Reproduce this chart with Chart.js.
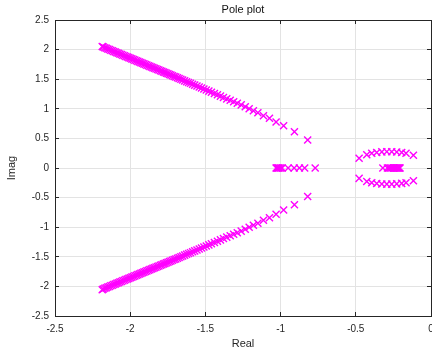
<!DOCTYPE html>
<html>
<head>
<meta charset="utf-8">
<script src="https://cdn.jsdelivr.net/npm/chart.js@4"></script>
<style>
  body { margin: 0; background: #fff; overflow: hidden; }
  canvas { display: block; }
</style>
</head>
<body>
<canvas id="graph" width="432" height="354"></canvas>
<script>
// upper complex branch (real, imag)
const upperRe = [-0.82, -0.908, -0.98, -1.03, -1.074, -1.114, -1.151, -1.181, -1.209, -1.235,
  -1.262, -1.288, -1.312, -1.335, -1.358, -1.38, -1.4, -1.42, -1.44, -1.46,
  -1.477, -1.494, -1.51, -1.526, -1.541, -1.556, -1.571, -1.585, -1.599, -1.612,
  -1.625, -1.638, -1.651, -1.663, -1.675, -1.686, -1.697, -1.708, -1.719, -1.729,
  -1.739, -1.749, -1.759, -1.769, -1.779, -1.789, -1.799, -1.809, -1.819, -1.829,
  -1.839, -1.849, -1.859, -1.869, -1.879, -1.889, -1.899, -1.909, -1.919, -1.929,
  -1.939, -1.949, -1.959, -1.969, -1.979, -1.989, -1.999, -2.009, -2.019, -2.029,
  -2.039, -2.049, -2.059, -2.069, -2.079, -2.089, -2.099, -2.109, -2.119, -2.129,
  -2.139, -2.149, -2.159, -2.169, -2.179, -2.186]
const upperIm = [0.473, 0.613, 0.715, 0.777, 0.84, 0.883, 0.934, 0.968, 1.002, 1.035,
  1.066, 1.093, 1.119, 1.144, 1.168, 1.192, 1.214, 1.236, 1.258, 1.28,
  1.299, 1.318, 1.335, 1.352, 1.368, 1.384, 1.4, 1.415, 1.43, 1.444,
  1.458, 1.472, 1.486, 1.499, 1.512, 1.524, 1.536, 1.547, 1.559, 1.57,
  1.58, 1.591, 1.602, 1.612, 1.623, 1.633, 1.644, 1.654, 1.665, 1.675,
  1.686, 1.696, 1.707, 1.717, 1.728, 1.738, 1.749, 1.759, 1.77, 1.78,
  1.791, 1.801, 1.812, 1.822, 1.833, 1.843, 1.854, 1.864, 1.875, 1.885,
  1.896, 1.906, 1.917, 1.927, 1.938, 1.948, 1.959, 1.969, 1.98, 1.99,
  2.001, 2.011, 2.022, 2.032, 2.043, 2.053]

// lower complex branch (real, imag)
const lowerRe = [-0.82, -0.908, -0.98, -1.03, -1.074, -1.114, -1.151, -1.181, -1.209, -1.235,
  -1.262, -1.288, -1.312, -1.335, -1.358, -1.38, -1.4, -1.42, -1.44, -1.46,
  -1.477, -1.494, -1.51, -1.526, -1.541, -1.556, -1.571, -1.585, -1.599, -1.612,
  -1.625, -1.638, -1.651, -1.663, -1.675, -1.686, -1.697, -1.708, -1.719, -1.729,
  -1.739, -1.749, -1.759, -1.769, -1.779, -1.789, -1.799, -1.809, -1.819, -1.829,
  -1.839, -1.849, -1.859, -1.869, -1.879, -1.889, -1.899, -1.909, -1.919, -1.929,
  -1.939, -1.949, -1.959, -1.969, -1.979, -1.989, -1.999, -2.009, -2.019, -2.029,
  -2.039, -2.049, -2.059, -2.069, -2.079, -2.089, -2.099, -2.109, -2.119, -2.129,
  -2.139, -2.149, -2.159, -2.169, -2.179, -2.186]
const lowerIm = [-0.48, -0.62, -0.71, -0.78, -0.84, -0.883, -0.934, -0.968, -1.002, -1.035,
  -1.066, -1.093, -1.119, -1.144, -1.168, -1.192, -1.214, -1.236, -1.258, -1.28,
  -1.299, -1.318, -1.335, -1.352, -1.368, -1.384, -1.4, -1.415, -1.43, -1.444,
  -1.458, -1.472, -1.486, -1.499, -1.512, -1.524, -1.536, -1.547, -1.559, -1.57,
  -1.58, -1.591, -1.602, -1.612, -1.623, -1.633, -1.644, -1.654, -1.665, -1.675,
  -1.686, -1.696, -1.707, -1.717, -1.728, -1.738, -1.749, -1.759, -1.77, -1.78,
  -1.791, -1.801, -1.812, -1.822, -1.833, -1.843, -1.854, -1.864, -1.875, -1.885,
  -1.896, -1.906, -1.917, -1.927, -1.938, -1.948, -1.959, -1.969, -1.98, -1.99,
  -2.001, -2.011, -2.022, -2.032, -2.043, -2.058]

// real poles near -1
const realNear1 = [-1.03, -1.025, -1.02, -1.015, -1.01, -1.0, -0.99, -0.95, -0.91, -0.875, -0.84, -0.77]

// small arcs near -0.3
const arcUpRe = [-0.478, -0.427, -0.394, -0.361, -0.327, -0.294, -0.261, -0.228, -0.195, -0.166, -0.117]
const arcUpIm = [0.164, 0.225, 0.248, 0.262, 0.272, 0.276, 0.275, 0.27, 0.262, 0.25, 0.214]
const arcLoRe = [-0.478, -0.427, -0.394, -0.361, -0.327, -0.294, -0.261, -0.228, -0.195, -0.166, -0.117]
const arcLoIm = [-0.175, -0.228, -0.25, -0.262, -0.27, -0.272, -0.272, -0.268, -0.26, -0.25, -0.214]

// real poles near -0.25
const realNear03 = [-0.32, -0.29, -0.28, -0.27, -0.26, -0.25, -0.245, -0.24, -0.235, -0.23, -0.225, -0.22, -0.215, -0.21, -0.206]

const xTicks = [-2.5, -2, -1.5, -1, -0.5, 0]
const yTicks = [-2.5, -2, -1.5, -1, -0.5, 0, 0.5, 1, 1.5, 2, 2.5]

const pink = '#ff00ff'
const dark = '#262626'
const font = { family: 'Liberation Sans, Arial, sans-serif', size: 10 }

function pairs(re, im) {
  return re.map((x, i) => ({ x: x, y: im[i] }))
}
function onAxis(re) {
  return re.map(x => ({ x: x, y: 0 }))
}
function series(data) {
  return {
    data: data,
    showLine: false,
    pointStyle: 'crossRot',
    pointRadius: 5,
    pointBorderWidth: 1.4,
    pointBorderColor: pink,
    pointBackgroundColor: pink
  }
}
function setTicks(list) {
  return s => { s.ticks = list.map(v => ({ value: v })) }
}
function boxSize(prop, size) {
  return s => {
    s[prop] = size
    s.paddingLeft = 0; s.paddingRight = 0; s.paddingTop = 0; s.paddingBottom = 0
  }
}

const ctx = document.getElementById('graph').getContext('2d')
const chart = new Chart(ctx, {
  type: 'scatter',
  data: {
    datasets: [
      series(pairs(upperRe, upperIm)),
      series(pairs(lowerRe, lowerIm)),
      series(onAxis(realNear1)),
      series(pairs(arcUpRe, arcUpIm)),
      series(pairs(arcLoRe, arcLoIm)),
      series(onAxis(realNear03))
    ]
  },
  options: {
    responsive: false,
    animation: false,
    layout: { padding: 0, autoPadding: false },
    plugins: { legend: { display: false }, tooltip: { enabled: false } },
    scales: {
      x: {
        type: 'linear', position: 'bottom', min: -2.5, max: 0,
        afterBuildTicks: setTicks(xTicks),
        afterFit: boxSize('height', 38),
        grid: { color: '#e3e3e3', tickLength: -4, tickColor: dark },
        border: { display: true, color: dark, width: 1 },
        ticks: { font: font, color: dark, padding: 11, maxRotation: 0, callback: v => String(v) },
        title: { display: true, text: 'Real', font: { family: font.family, size: 11 }, color: dark, padding: { top: 0, bottom: 3 } }
      },
      x2: {
        type: 'linear', position: 'top', min: -2.5, max: 0,
        afterBuildTicks: setTicks(xTicks),
        afterFit: boxSize('height', 20),
        grid: { drawOnChartArea: false, tickLength: -4, tickColor: dark },
        border: { display: true, color: dark, width: 1 },
        ticks: { display: false },
        title: { display: true, text: 'Pole plot', font: { family: font.family, size: 11 }, color: '#111', padding: { top: 3, bottom: 0 } }
      },
      y: {
        type: 'linear', position: 'left', min: -2.5, max: 2.5,
        afterBuildTicks: setTicks(yTicks),
        afterFit: boxSize('width', 55),
        grid: { color: '#e3e3e3', tickLength: -4, tickColor: dark },
        border: { display: true, color: dark, width: 1 },
        ticks: { font: font, color: dark, padding: 10, callback: v => String(v) },
        title: { display: true, text: 'Imag', font: { family: font.family, size: 11 }, color: dark, padding: { top: 5.5, bottom: 0 } }
      },
      y2: {
        type: 'linear', position: 'right', min: -2.5, max: 2.5,
        afterBuildTicks: setTicks(yTicks),
        afterFit: boxSize('width', 1),
        grid: { drawOnChartArea: false, tickLength: -4, tickColor: dark },
        border: { display: true, color: dark, width: 1 },
        ticks: { display: false }
      }
    }
  }
})
</script>
</body>
</html>
